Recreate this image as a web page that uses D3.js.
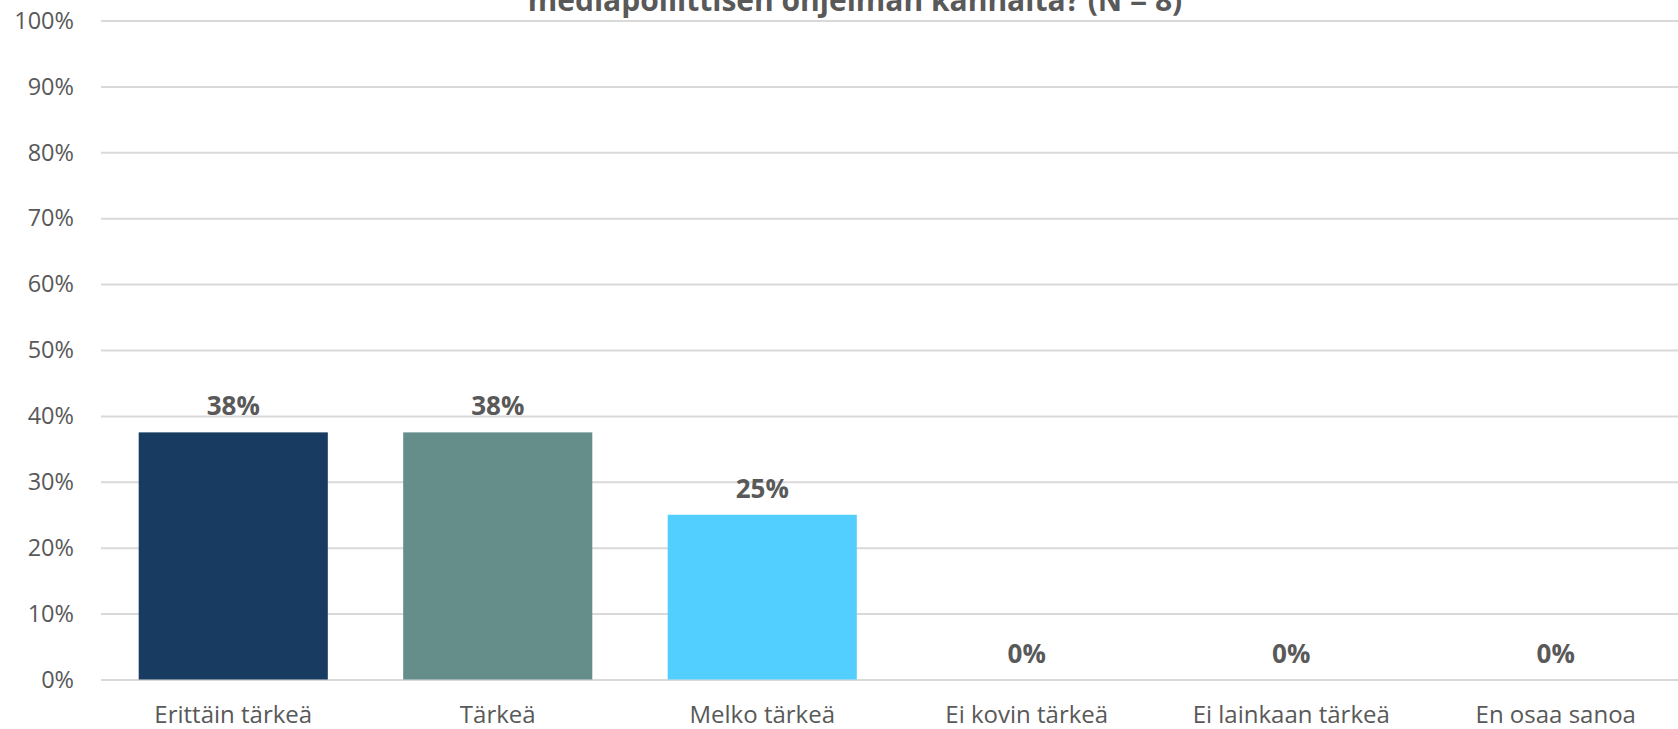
<!DOCTYPE html>
<html lang="fi">
<head>
    <meta charset="UTF-8">
    <title>Mediapoliittinen ohjelma</title>
    <script src="https://cdnjs.cloudflare.com/ajax/libs/d3/7.8.5/d3.min.js"></script>
    <style>
        body { margin: 0; background: #fff; }
        svg { display: block; font-family: "Open Sans", "Noto Sans", sans-serif; }
        .grid line { stroke: #d9d9d9; stroke-width: 2; }
        .grid path { display: none; }
        .tick-label { fill: #595959; font-size: 23.5px; }
        .cat-label { fill: #595959; font-size: 24px; }
        .value { fill: #595959; font-size: 26px; font-weight: bold; }
        .title { fill: #595959; font-size: 30px; font-weight: bold; }
    </style>
</head>
<body>
<svg id="chart" width="1678" height="729"></svg>
<script>
    // data
    var categories = ['Erittäin tärkeä', 'Tärkeä', 'Melko tärkeä', 'Ei kovin tärkeä', 'Ei lainkaan tärkeä', 'En osaa sanoa'];
    var values = [37.5, 37.5, 25, 0, 0, 0];
    var valueLabels = ['38%', '38%', '25%', '0%', '0%', '0%'];
    var barColors = ['#183b61', '#658e8b', '#52cffe', '#52cffe', '#52cffe', '#52cffe'];
    var yTicks = [0, 10, 20, 30, 40, 50, 60, 70, 80, 90, 100];
    var titleText = 'mediapoliittisen ohjelman kannalta? (N = 8)';

    var svg = d3.select('#chart');
    var margin = {top: 20.5, right: -10, bottom: 49.5, left: 101};
    var width = +svg.attr('width') - margin.left - margin.right;
    var height = +svg.attr('height') - margin.top - margin.bottom;

    var vis = svg.append('g')
            .attr('transform', 'translate(' + margin.left + ',' + margin.top + ')');

    var x = d3.scaleBand()
            .domain(categories)
            .range([0, width])
            .paddingInner(0.285)
            .paddingOuter(0.1425);

    var y = d3.scaleLinear()
            .domain([0, 100])
            .range([height, 0]);

    // gridlines
    vis.append('g')
            .attr('class', 'grid')
            .call(d3.axisLeft(y).tickValues(yTicks).tickSize(-width).tickFormat(''));

    vis.selectAll('.tick-label')
            .data(yTicks)
            .enter()
            .append('text')
            .attr('class', 'tick-label')
            .attr('x', -27)
            .attr('y', function (d) { return y(d); })
            .attr('dy', '0.35em')
            .attr('text-anchor', 'end')
            .text(function (d) { return d + '%'; });

    vis.selectAll('.bar')
            .data(values)
            .enter()
            .append('rect')
            .attr('class', 'bar')
            .attr('x', function (d, i) { return x(categories[i]); })
            .attr('width', x.bandwidth())
            .attr('y', function (d) { return y(d); })
            .attr('height', function (d) { return height - y(d); })
            .style('fill', function (d, i) { return barColors[i]; });

    vis.selectAll('.value')
            .data(values)
            .enter()
            .append('text')
            .attr('class', 'value')
            .attr('x', function (d, i) { return x(categories[i]) + x.bandwidth() / 2; })
            .attr('y', function (d) { return y(d) - 17; })
            .attr('text-anchor', 'middle')
            .text(function (d, i) { return valueLabels[i]; });

    vis.selectAll('.cat-label')
            .data(categories)
            .enter()
            .append('text')
            .attr('class', 'cat-label')
            .attr('x', function (d) { return x(d) + x.bandwidth() / 2; })
            .attr('y', height + 43)
            .attr('text-anchor', 'middle')
            .text(function (d) { return d; });

    svg.append('text')
            .attr('class', 'title')
            .attr('x', 855)
            .attr('y', 11)
            .attr('text-anchor', 'middle')
            .text(titleText);
</script>
</body>
</html>
